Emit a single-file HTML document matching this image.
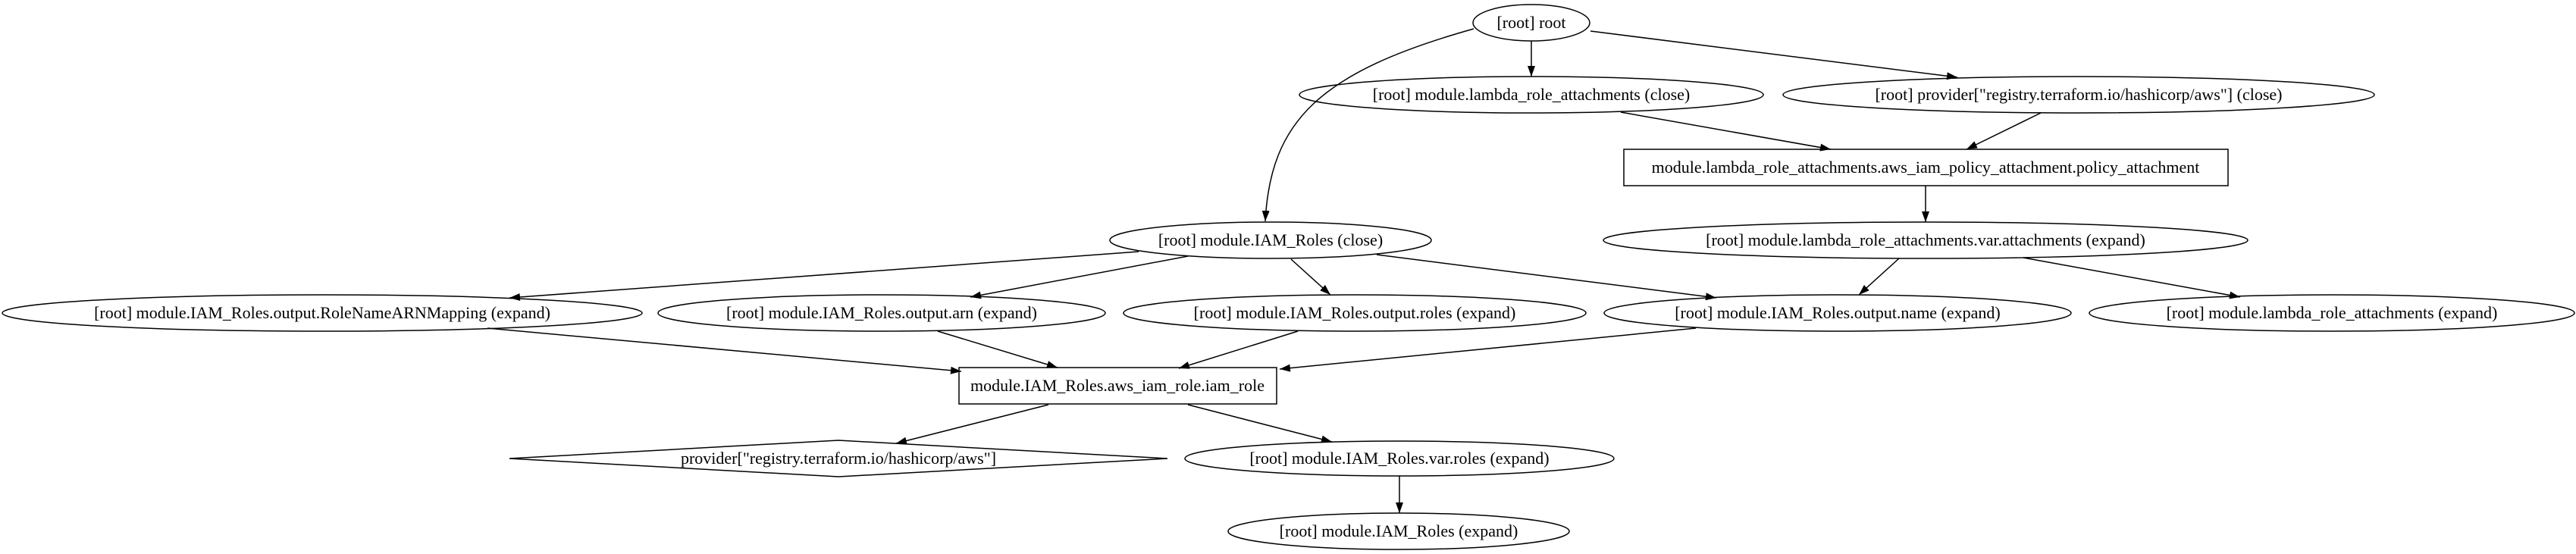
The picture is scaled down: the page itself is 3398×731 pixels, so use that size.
<!DOCTYPE html>
<html><head><meta charset="utf-8"><style>html,body{margin:0;padding:0;background:#fff}svg{display:block}</style></head>
<body>
<svg width="3398" height="731" viewBox="0 0 3398 731" xmlns="http://www.w3.org/2000/svg" font-family="'Liberation Serif', serif" font-size="22">
<defs>
<marker id="a" markerUnits="userSpaceOnUse" markerWidth="16" markerHeight="12" refX="14" refY="5" orient="auto">
<path d="M0,0 L14,5 L0,10 Z" fill="#000"/>
</marker>
</defs>
<g fill="none" stroke="#000" stroke-width="1.5">
<ellipse cx="2020" cy="30" rx="77" ry="24"/>
<ellipse cx="2020" cy="125" rx="306" ry="24"/>
<ellipse cx="2742" cy="125" rx="390" ry="24"/>
<rect x="2142" y="197" width="797" height="48"/>
<ellipse cx="2540" cy="317" rx="425" ry="24"/>
<ellipse cx="1676" cy="317" rx="212" ry="24"/>
<ellipse cx="425" cy="413" rx="422" ry="24"/>
<ellipse cx="1163" cy="413" rx="295" ry="24"/>
<ellipse cx="1787" cy="413" rx="305" ry="24"/>
<ellipse cx="2424" cy="413" rx="308" ry="24"/>
<ellipse cx="3076" cy="413" rx="320" ry="24"/>
<rect x="1265" y="485" width="419" height="48"/>
<polygon points="672,605 1106,581 1540,605 1106,629"/>
<ellipse cx="1846" cy="605" rx="283" ry="23"/>
<ellipse cx="1845" cy="701" rx="225" ry="24"/>
</g>
<g fill="none" stroke="#000" stroke-width="1.5" marker-end="url(#a)">
<path d="M1944,38 C1740,95 1676,160 1669,292"/>
<path d="M2020,54 L2020,101"/>
<path d="M2098,41 L2582,102"/>
<path d="M2138,148 L2415,197"/>
<path d="M2692,149 L2594,197"/>
<path d="M2540,245 L2540,293"/>
<path d="M1502,332 L672,393"/>
<path d="M1567,338 L1280,392"/>
<path d="M1703,342 L1755,389"/>
<path d="M1816,336 L2264,393"/>
<path d="M2505,341 L2452,389"/>
<path d="M2669,340 L2955,392"/>
<path d="M643,433 L1268,490"/>
<path d="M1237,437 L1395,485"/>
<path d="M1712,437 L1555,486"/>
<path d="M2237,433 L1688,487"/>
<path d="M1383,534 L1182,585"/>
<path d="M1567,534 L1757,583"/>
<path d="M1846,628 L1846,677"/>
</g>
<g fill="#000" text-anchor="middle">
<text x="2020" y="37">[root] root</text>
<text x="2020" y="132">[root] module.lambda_role_attachments (close)</text>
<text x="2742" y="132">[root] provider["registry.terraform.io/hashicorp/aws"] (close)</text>
<text x="2540" y="228">module.lambda_role_attachments.aws_iam_policy_attachment.policy_attachment</text>
<text x="2540" y="324">[root] module.lambda_role_attachments.var.attachments (expand)</text>
<text x="1676" y="324">[root] module.IAM_Roles (close)</text>
<text x="425" y="420">[root] module.IAM_Roles.output.RoleNameARNMapping (expand)</text>
<text x="1163" y="420">[root] module.IAM_Roles.output.arn (expand)</text>
<text x="1787" y="420">[root] module.IAM_Roles.output.roles (expand)</text>
<text x="2424" y="420">[root] module.IAM_Roles.output.name (expand)</text>
<text x="3076" y="420">[root] module.lambda_role_attachments (expand)</text>
<text x="1474" y="516">module.IAM_Roles.aws_iam_role.iam_role</text>
<text x="1106" y="612">provider["registry.terraform.io/hashicorp/aws"]</text>
<text x="1846" y="612">[root] module.IAM_Roles.var.roles (expand)</text>
<text x="1845" y="708">[root] module.IAM_Roles (expand)</text>
</g>
</svg>
</body></html>
